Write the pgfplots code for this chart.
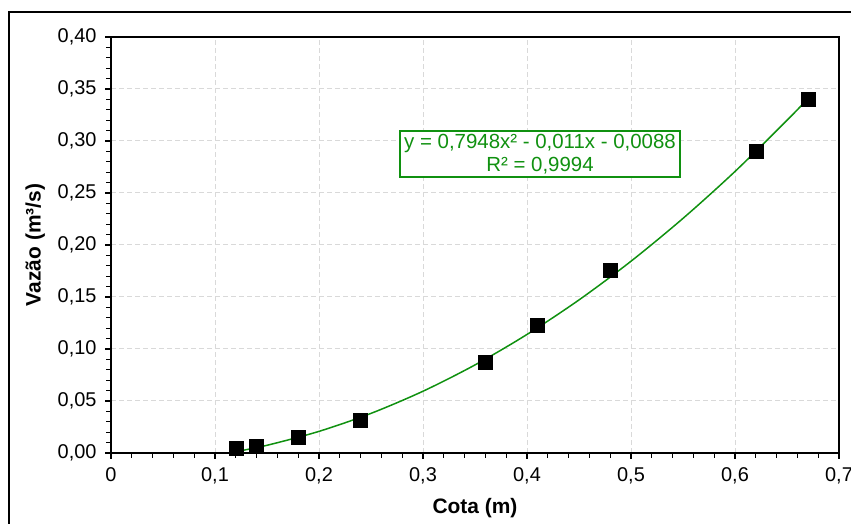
\documentclass[border=0pt]{standalone}
\usepackage{fontspec}
\setmainfont{Liberation Sans}
\usepackage{pgfplots}
\pgfplotsset{compat=1.18}
\definecolor{trend}{RGB}{16,145,16}
\definecolor{gridc}{RGB}{217,217,217}
\begin{document}
\begin{tikzpicture}[x=1bp,y=1bp]
\useasboundingbox (0,0) rectangle (851,524);
\draw[line width=1.2bp,black] (9,0) -- (9,512) -- (851,512);
\begin{axis}[
  at={(111bp,71bp)}, anchor=south west,
  scale only axis, width=728bp, height=416bp,
  xmin=0, xmax=0.7, ymin=0, ymax=0.40,
  xtick={0,0.1,0.2,0.3,0.4,0.5,0.6,0.7},
  ytick={0,0.05,0.10,0.15,0.20,0.25,0.30,0.35,0.40},
  minor x tick num=4, minor y tick num=4,
  xtick pos=bottom, ytick pos=left,
  tick align=outside,
  major tick length=6bp, minor tick length=5bp,
  every tick/.style={black, line width=1.3bp},
  axis line style={line width=1.6bp, black},
  grid=major,
  major grid style={gridc, line width=1bp, dash pattern=on 5bp off 3bp},
  ticklabel style={font=\fontsize{20}{24}\selectfont},
  xticklabel style={yshift=-5bp, /pgf/number format/.cd, fixed, use comma, precision=1},
  yticklabel style={xshift=-5bp, /pgf/number format/.cd, fixed, fixed zerofill, use comma, precision=2},
  /pgf/number format/assume math mode=true,
  scaled ticks=false,
  xlabel={\textbf{Cota (m)}},
  ylabel={\textbf{Vazão (m³/s)}},
  label style={font=\fontsize{21}{25}\selectfont},
  xlabel style={yshift=-8bp},
  ylabel style={yshift=6bp},
  clip=false,
]
\addplot[trend, line width=1.5bp, smooth] coordinates {
 (0.12,0.0013) (0.15,0.0074) (0.20,0.0208) (0.25,0.0381) (0.30,0.0594)
 (0.35,0.0847) (0.40,0.1140) (0.45,0.1472) (0.50,0.1844) (0.55,0.2256)
 (0.60,0.2707) (0.65,0.3199) (0.67,0.3406)
};
\addplot[only marks, mark=square*, mark size=7bp, black,
  mark options={rounded corners=1.5bp}] coordinates {
 (0.12,0.005) (0.14,0.007) (0.18,0.015) (0.24,0.032) (0.36,0.087)
 (0.41,0.123) (0.48,0.176) (0.62,0.290) (0.67,0.340)
};
\node[draw=trend, line width=1.5bp, fill=white, text=trend, align=center,
  font=\fontsize{20.5}{23}\selectfont, inner xsep=4bp, inner ysep=3bp]
  at (axis cs:0.4125,0.2875) {y = 0,7948x² - 0,011x - 0,0088\\R² = 0,9994};
\end{axis}
\end{tikzpicture}
\end{document}
